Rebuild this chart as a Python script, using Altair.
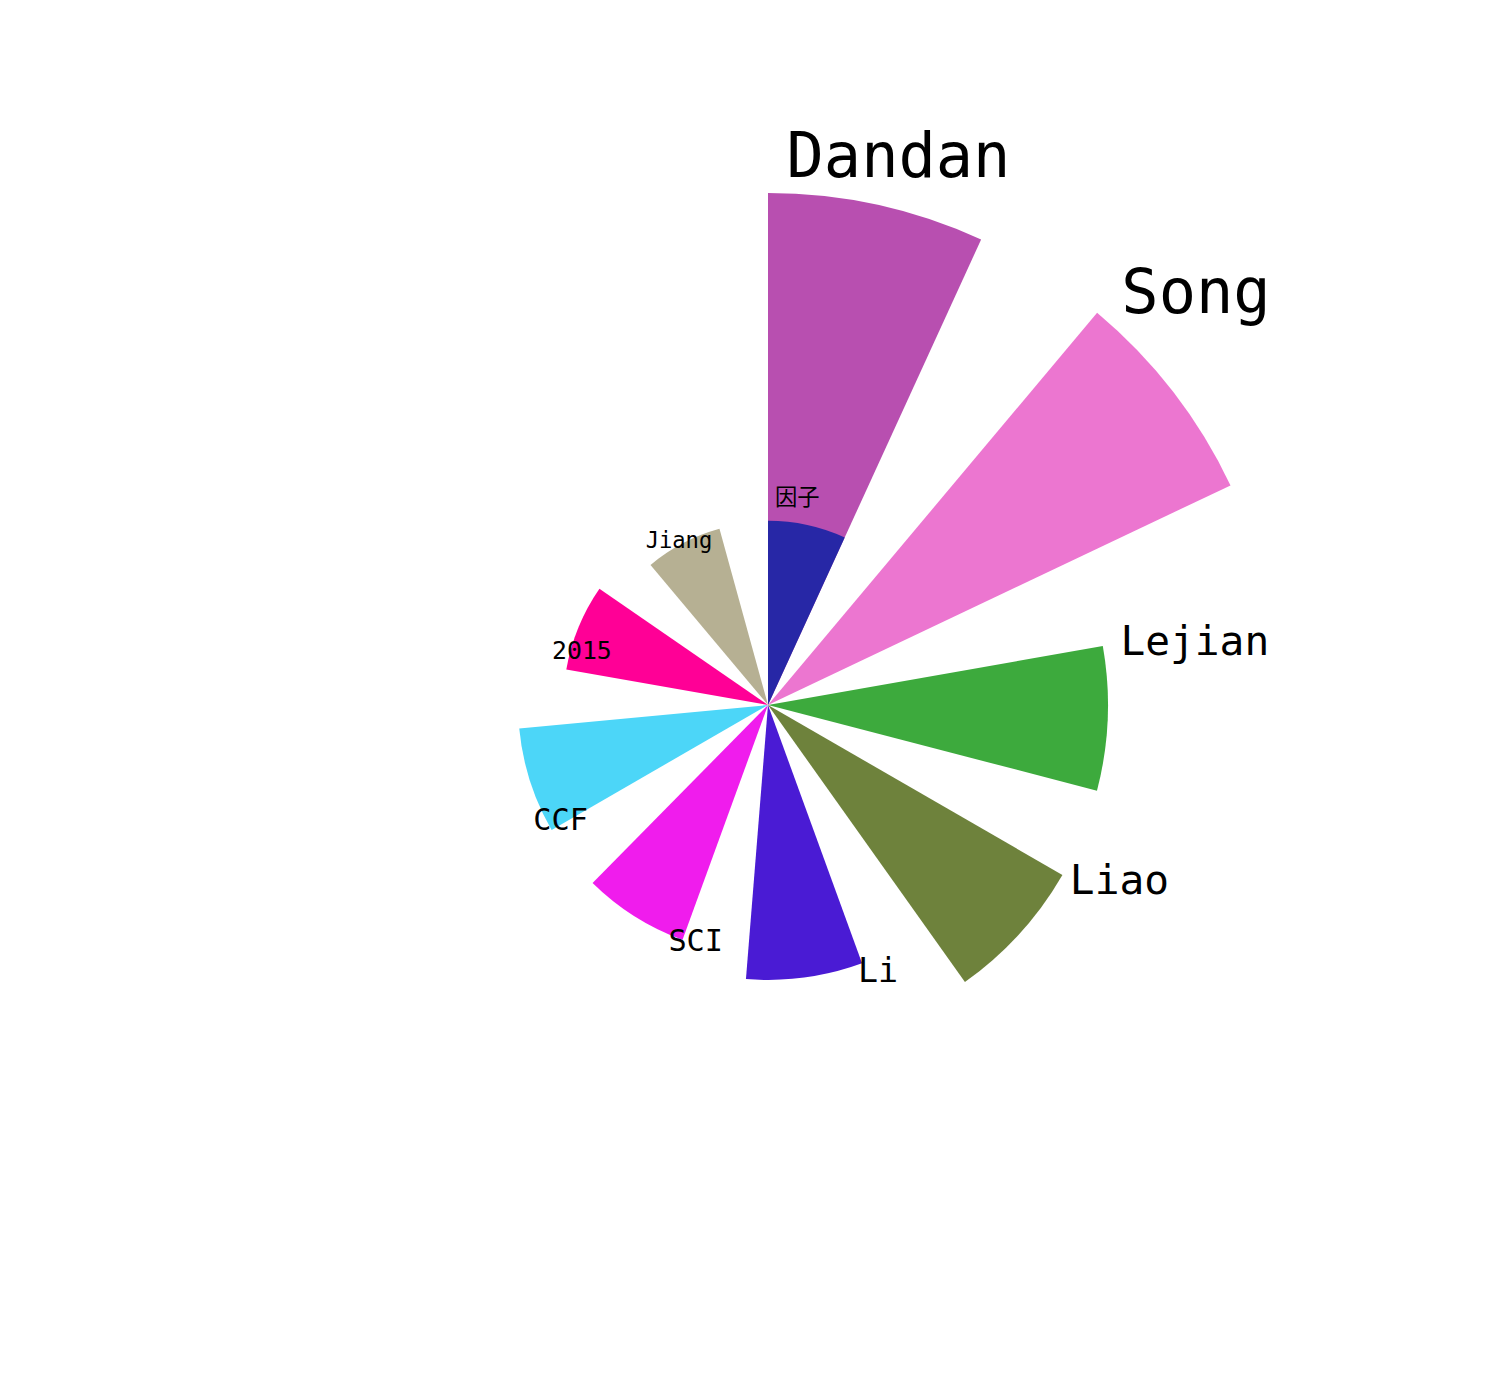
import math
import altair as alt
import pandas as pd

names = ["Dandan", "Song", "Lejian", "Liao", "Li", "SCI", "CCF", "2015", "Jiang", "因子"]
values = [100, 100, 66.4, 66.4, 53.7, 48.8, 48.8, 40.0, 35.7, 36.0]
colors = ["#b84fb0", "#ec76d0", "#3daa3d", "#6e823c", "#4a1bd4",
          "#f01ced", "#4cd6f8", "#ff0096", "#b6b093", "#2727a6"]
positions = list(range(len(names)))
bar_width = 0.615

df = pd.DataFrame({
    "name": names,
    "value": values,
    "pos": positions,
    "pos_end": [p + bar_width for p in positions],
})

theta_scale = alt.Scale(domain=[0, 9], range=[0, 2 * math.pi])
radius_scale = alt.Scale(type="linear", domain=[0, 100], range=[0, 512], zero=True)
color_scale = alt.Scale(domain=names, range=colors)

base = alt.Chart(df)

bars = base.mark_arc(stroke=None if False else "white", strokeWidth=0).encode(
    theta=alt.Theta("pos:Q", scale=theta_scale, stack=False),
    theta2="pos_end:Q",
    radius=alt.Radius("value:Q", scale=radius_scale),
    color=alt.Color("name:N", scale=color_scale, legend=None),
)

labels = base.mark_text(
    align="left", baseline="alphabetic", radiusOffset=16, thetaOffset=0.035,
    font="DejaVu Sans Mono, Noto Sans CJK SC", color="black",
).encode(
    theta=alt.Theta("pos:Q", scale=theta_scale, stack=False),
    radius=alt.Radius("value:Q", scale=radius_scale),
    text="name:N",
    size=alt.Size("value:Q", scale=alt.Scale(type="linear", domain=[0, 100], range=[0, 62]), legend=None),
)

chart = (bars + labels).properties(
    width=1024, height=1024,
    padding={"left": 256, "top": 193, "right": 0, "bottom": 0},
    autosize=alt.AutoSizeParams(type="none"),
).configure_view(strokeWidth=0)

chart.save("out.html", embed_options={"renderer": "svg", "actions": False})
